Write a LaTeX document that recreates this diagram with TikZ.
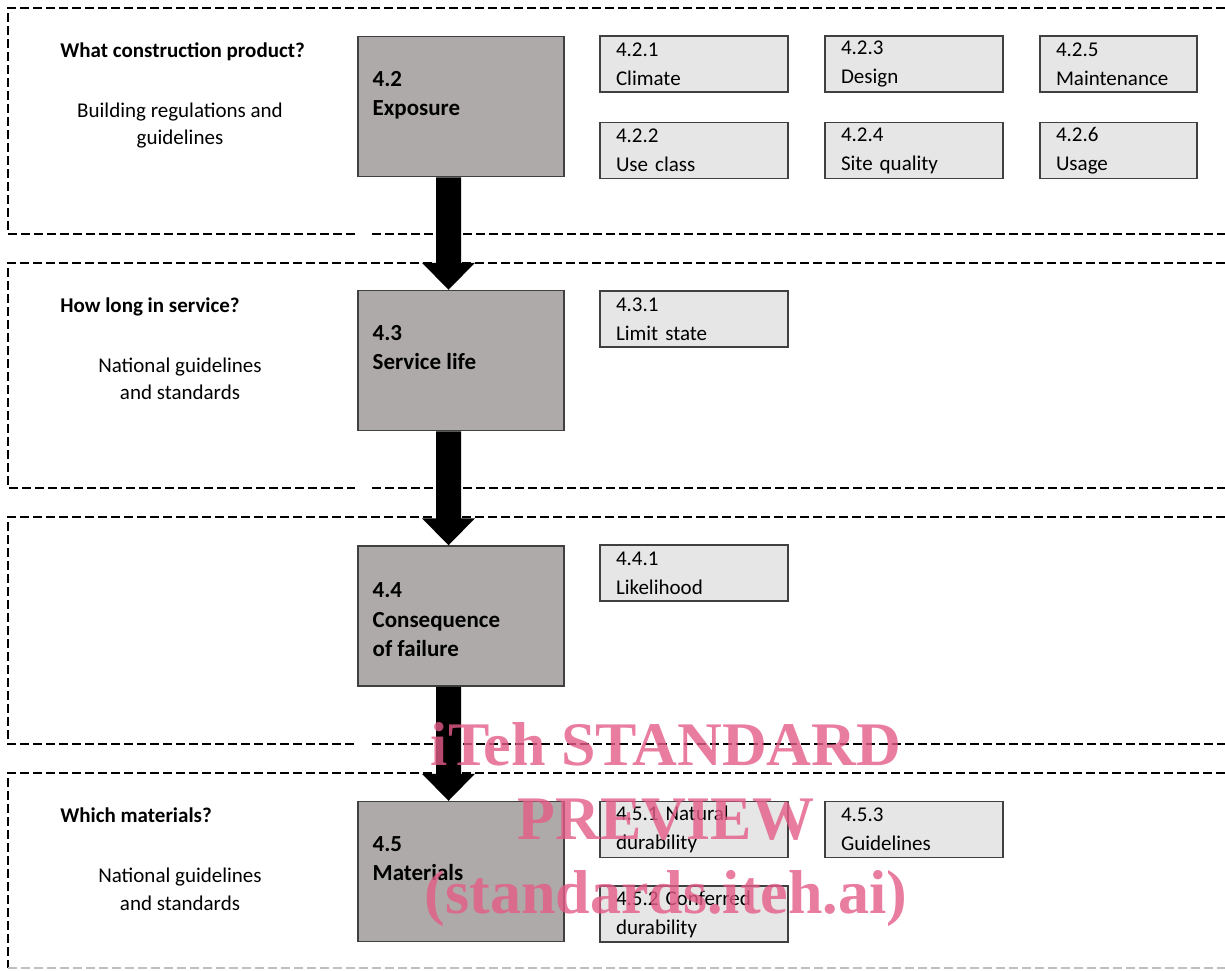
\documentclass[tikz,border=0pt]{standalone}
\usepackage{fontspec}
\setmainfont{Carlito}
\newfontfamily\wmfont{Liberation Serif}

\definecolor{mainfill}{RGB}{174,170,169}
\definecolor{subfill}{RGB}{230,230,230}
\definecolor{wmpink}{RGB}{228,92,135}

% thick block arrow from the bottom of one step to the top of the next
\newcommand{\blockarrow}[2]{%
  \fill[black] ([xshift=-12.5pt]#1.south)
    -- ([xshift=-12.5pt,yshift=13.5pt]#2.north)
    -- ([xshift=-19.5pt,yshift=13.5pt]#2.north)
    -- ([xshift=-6.25pt]#2.north)
    -- ([xshift=7pt,yshift=13.5pt]#2.north)
    -- ([yshift=13.5pt]#2.north)
    -- (#1.south) -- cycle;}

\begin{document}
\begin{tikzpicture}[%
    x=0.5pt, y=-0.5pt,
    band/.style={
      draw=black,
      line width=1pt,
      dash pattern=on 4.5pt off 2pt
    },
    mainbox/.style={
      rectangle,
      draw=black!75,
      line width=0.75pt,
      fill=mainfill,
      minimum width=103pt,
      minimum height=70pt,
      inner sep=0pt
    },
    maintext/.style={
      anchor=north west,
      inner sep=0pt,
      align=left,
      font=\bfseries\fontsize{11.5}{14.75}\selectfont
    },
    subbox/.style={
      rectangle,
      draw=black!75,
      line width=0.75pt,
      fill=subfill,
      text width=#1,
      minimum height=28pt,
      inner xsep=8pt,
      inner ysep=0pt,
      align=left,
      font=\fontsize{10.5}{14.5}\selectfont
    },
    question/.style={
      anchor=base west,
      inner sep=0pt,
      font=\bfseries\fontsize{10.5}{13}\selectfont
    },
    note/.style={
      anchor=north,
      inner sep=0pt,
      align=center,
      font=\fontsize{10.5}{13.5}\selectfont
    },
    watermark/.style={
      text=wmpink,
      opacity=0.8,
      align=center,
      font=\wmfont\bfseries\fontsize{31}{37}\selectfont
    }
  ]
    \useasboundingbox (0,0) rectangle (1225,970);

    % dashed bands
    \foreach \t/\b in {8/234, 263/488, 517/744} {
      \draw[band] (1225,\t) -| (8,\b) -- (355,\b);
      \draw[band] (372,\b) -- (1225,\b);
    }
    \draw[band] (1225,773) -| (8,968);
    \draw[band, draw=black!25] (8,968) -- (1225,968);

    % left column
    \node[question] (q-product) at (60,57) {What construction product?};
    \node[note] (n-product) at (180,103) {Building regulations and\\guidelines};
    \node[question] (q-service) at (60,312) {How long in service?};
    \node[note] (n-service) at (180,358) {National guidelines\\and standards};
    \node[question] (q-materials) at (60,822) {Which materials?};
    \node[note] (n-materials) at (180,868) {National guidelines\\and standards};

    % main steps
    \node[mainbox] (exposure) at (461,106.5) {};
    \node[maintext] (exposure-txt) at ([shift={(7.5pt,-17.5pt)}]exposure.north west) {4.2\\Exposure};
    \node[mainbox] (servicelife) at (461,360.5) {};
    \node[maintext] (servicelife-txt) at ([shift={(7.5pt,-17.5pt)}]servicelife.north west) {4.3\\Service life};
    \node[mainbox] (consequence) at (461,616) {};
    \node[maintext] (consequence-txt) at ([shift={(7.5pt,-18.5pt)}]consequence.north west) {4.4\\Consequence\\of failure};
    \node[mainbox] (materials) at (461,871.5) {};
    \node[maintext] (materials-txt) at ([shift={(7.5pt,-17.5pt)}]materials.north west) {4.5\\Materials};

    \blockarrow{exposure}{servicelife}
    \blockarrow{servicelife}{consequence}
    \blockarrow{consequence}{materials}

    % sub-clauses
    \node[subbox=78pt] (climate) at (694,64) {4.2.1\\Climate};
    \node[subbox=78pt] (useclass) at (694,150.5) {4.2.2\\Use class};
    \node[subbox=73pt] (design) at (914,64) {4.2.3\\Design};
    \node[subbox=73pt] (sitequality) at (914,150.5) {4.2.4\\Site quality};
    \node[subbox=62.5pt] (maintenance) at (1118.5,64) {4.2.5\\Maintenance};
    \node[subbox=62.5pt] (usage) at (1118.5,150.5) {4.2.6\\Usage};
    \node[subbox=78pt] (limitstate) at (694,319) {4.3.1\\Limit state};
    \node[subbox=78pt] (likelihood) at (694,573) {4.4.1\\Likelihood};
    \node[subbox=78pt] (natural) at (694,829.5) {4.5.1 Natural\\durability};
    \node[subbox=73pt] (guidelines) at (914,829.5) {4.5.3\\Guidelines};
    \node[subbox=78pt] (conferred) at (694,914) {4.5.2 Conferred\\durability};

    \node[watermark] (stamp) at (666,825) {iTeh STANDARD\\PREVIEW\\(standards.iteh.ai)};
  \end{tikzpicture}
\end{document}
